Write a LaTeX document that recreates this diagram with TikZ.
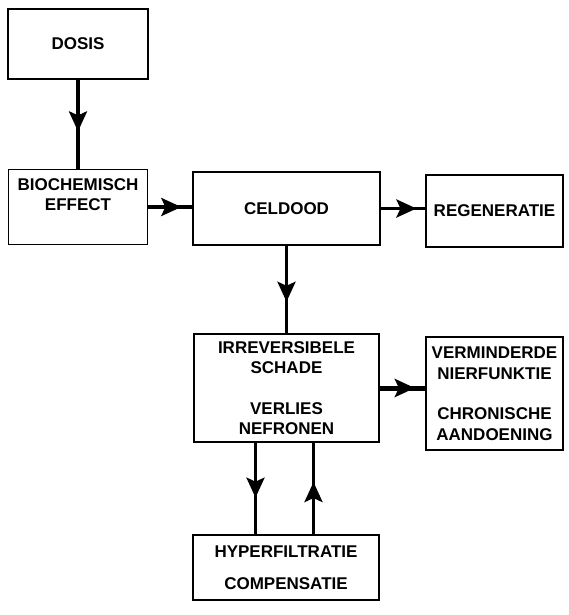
\documentclass[tikz,border=0pt]{standalone}
\usepackage{fontspec}
\setmainfont{Liberation Sans}
\usetikzlibrary{arrows.meta,decorations.markings}

\begin{document}
\begin{tikzpicture}[x=1pt, y=-1pt,
    box/.style={draw, line width=1.2pt, align=center, inner sep=0pt,
      font=\fontsize{17}{20.5}\selectfont\bfseries},
    flow/.style={line width=3.4pt, decoration={markings,
      mark=at position #1 with {\arrow{Stealth[length=20pt,width=18pt,inset=4pt]}}},
      postaction={decorate}}]
    \useasboundingbox (0,0) rectangle (568,615);

    % boxes
    \node[box, minimum width=140pt, minimum height=70pt] (dosis) at (78,44) {DOSIS};
    \node[box, minimum width=139pt, minimum height=75pt] (biochem) at (78,207)
    {BIOCHEMISCH\\EFFECT\\[4pt]};
    \node[box, minimum width=187pt, minimum height=73pt] (celdood) at (286.5,208.5) {CELDOOD};
    \node[box, minimum width=137pt, minimum height=72pt] (regen) at (494.5,211) {REGENERATIE};
    \node[box, minimum width=185pt, minimum height=108pt] (schade) at (286.5,388)
    {IRREVERSIBELE\\SCHADE\\[20pt]VERLIES\\NEFRONEN};
    \node[box, minimum width=137pt, minimum height=113pt] (nier) at (494.5,393.5)
    {VERMINDERDE\\NIERFUNKTIE\\[20pt]CHRONISCHE\\AANDOENING};
    \node[box, minimum width=186pt, minimum height=65pt] (hyper) at (286,567.5)
    {HYPERFILTRATIE\\[12pt]COMPENSATIE};

    % arrows
    \draw[flow=0.58] (dosis.south) -- (biochem.north);
    \draw[flow=0.75] (biochem.east) -- (biochem.east -| celdood.west);
    \draw[flow=0.8] (celdood.east) -- (celdood.east -| regen.west);
    \draw[flow=0.64] (celdood.south) -- (schade.north);
    \draw[flow=0.77, line width=5pt] (schade.east) -- (schade.east -| nier.west);

    % loop
    \draw[flow=0.6] ([xshift=-31pt]schade.south) -- ([xshift=-31pt]schade.south |- hyper.north);
    \draw[flow=0.57] ([xshift=27pt]schade.south |- hyper.north) -- ([xshift=27pt]schade.south);
\end{tikzpicture}
\end{document}
